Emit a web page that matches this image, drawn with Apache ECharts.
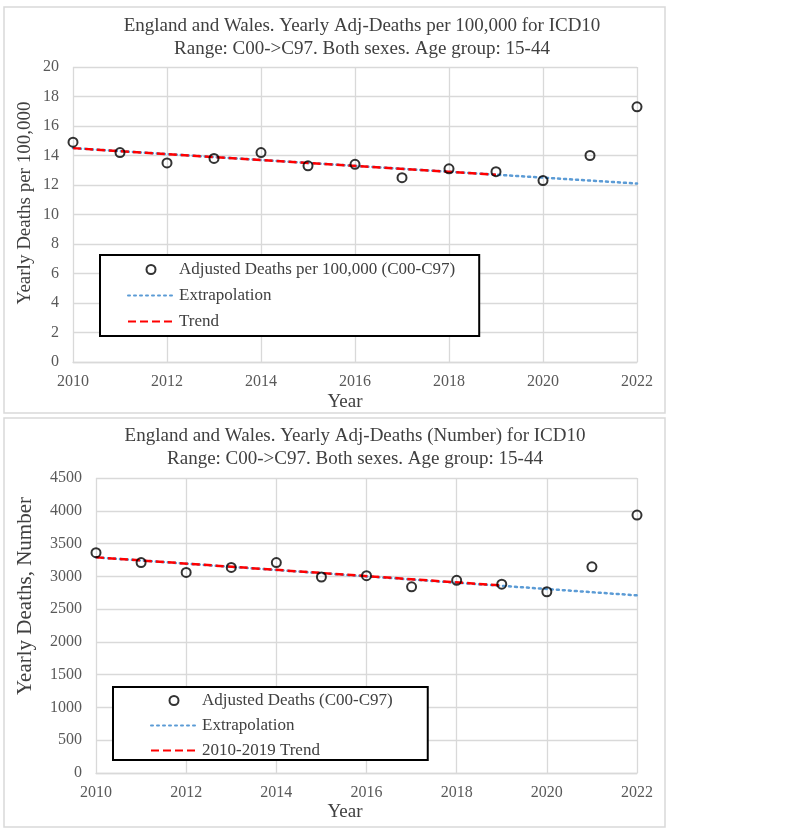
<!DOCTYPE html>
<html>
<head>
<meta charset="utf-8">
<script src="https://cdn.jsdelivr.net/npm/echarts@6/dist/echarts.min.js"></script>
<style>html,body{margin:0;padding:0;background:#fff}#c{width:798px;height:837px}</style>
</head>
<body>
<div id="c"></div>
<script>
// ---- data ----
const years = [2010, 2011, 2012, 2013, 2014, 2015, 2016, 2017, 2018, 2019, 2020, 2021, 2022];
const ratePer100k = [14.9, 14.2, 13.5, 13.8, 14.2, 13.3, 13.4, 12.5, 13.1, 12.9, 12.3, 14.0, 17.3];
const rateTrendYears = [2010, 2019];
const rateTrendValues = [14.5, 12.7];
const rateExtrapYears = [2010, 2022];
const rateExtrapValues = [14.5, 12.1];

const deathsNumber = [3360, 3210, 3060, 3135, 3210, 2990, 3010, 2840, 2940, 2880, 2765, 3145, 3935];
const numTrendYears = [2010, 2019];
const numTrendValues = [3290, 2860];
const numExtrapYears = [2010, 2022];
const numExtrapValues = [3290, 2710];

const topTitle = 'England and Wales. Yearly Adj-Deaths per 100,000 for ICD10\nRange: C00->C97. Both sexes. Age group: 15-44';
const botTitle = 'England and Wales. Yearly Adj-Deaths (Number) for ICD10\nRange: C00->C97. Both sexes. Age group: 15-44';
const topLegend = ['Adjusted Deaths per 100,000 (C00-C97)', 'Extrapolation', 'Trend'];
const botLegend = ['Adjusted Deaths (C00-C97)', 'Extrapolation', '2010-2019 Trend'];
const topYName = 'Yearly Deaths per 100,000';
const botYName = 'Yearly Deaths, Number';
const xName = 'Year';

// ---- helpers ----
const zip = (xs, ys) => xs.map((x, i) => [x, ys[i]]);
const FONT = 'Liberation Serif';
const grid = '#d9d9d9';
const lbl = '#595959';
const txt = '#404040';

function xAxis(gi) {
  return {
    gridIndex: gi, type: 'value', min: 2010, max: 2022, interval: 2,
    axisLine: { show: true, lineStyle: { color: grid, width: 1.3 } },
    axisTick: { show: false },
    splitLine: { show: true, lineStyle: { color: grid, width: 1.3 } },
    axisLabel: { color: lbl, fontFamily: FONT, fontSize: 16, margin: 12, formatter: v => String(v) }
  };
}
function yAxis(gi, max, interval) {
  return {
    gridIndex: gi, type: 'value', min: 0, max: max, interval: interval,
    axisLine: { show: false }, axisTick: { show: false },
    splitLine: { show: true, lineStyle: { color: grid, width: 1.3 } },
    axisLabel: { color: lbl, fontFamily: FONT, fontSize: 16, margin: 14, formatter: v => String(v) }
  };
}
const dotted = { color: '#5B9BD5', width: 2.5, type: [2, 4], cap: 'round' };
const dashed = { color: '#FF0000', width: 2.5, type: [8, 4] };
const scatterStyle = { color: 'rgba(0,0,0,0)', borderColor: '#000', borderWidth: 2 };

function legend(names, left, top, padding, gap) {
  return {
    data: names.map((n, i) => i === 0 ? { name: n, icon: 'circle' } : { name: n, itemStyle: { opacity: 0 } }),
    orient: 'vertical', left: left, top: top, padding: padding,
    itemWidth: 46, itemHeight: 9, itemGap: gap,
    backgroundColor: '#fff', borderColor: '#000', borderWidth: 2,
    textStyle: { color: txt, fontFamily: FONT, fontSize: 17 },
    selectedMode: false
  };
}
function vText(text, x, y, size) {
  return { type: 'text', x: x, y: y, rotation: Math.PI / 2,
    style: { text: text, fill: txt, font: size + 'px "Liberation Serif"', align: 'center', verticalAlign: 'middle' } };
}
function hText(text, x, y, size) {
  return { type: 'text', x: x, y: y,
    style: { text: text, fill: txt, font: size + 'px "Liberation Serif"', align: 'center', verticalAlign: 'middle' } };
}

const option = {
  animation: false,
  backgroundColor: '#fff',
  graphic: [
    { type: 'rect', shape: { x: 4, y: 7, width: 661, height: 406 }, style: { fill: 'none', stroke: grid, lineWidth: 1.5 }, z: -1 },
    { type: 'rect', shape: { x: 4, y: 418, width: 661, height: 409 }, style: { fill: 'none', stroke: grid, lineWidth: 1.5 }, z: -1 },
    hText(xName, 345, 402, 19),
    hText(xName, 345, 812, 19),
    vText(topYName, 25, 203, 19),
    vText(botYName, 25, 596, 21)
  ],
  title: [
    { text: topTitle, left: 357, top: 10, textAlign: 'center',
      textStyle: { color: txt, fontFamily: FONT, fontSize: 19, fontWeight: 'normal', lineHeight: 23 } },
    { text: botTitle, left: 350, top: 420, textAlign: 'center',
      textStyle: { color: txt, fontFamily: FONT, fontSize: 19, fontWeight: 'normal', lineHeight: 23 } }
  ],
  legend: [
    legend(topLegend, 100, 255, [6, 24, 6, 27], 9),
    legend(botLegend, 113, 687, [5, 35, 1, 37], 8)
  ],
  grid: [
    { left: 73, top: 67, width: 564, height: 295 },
    { left: 96, top: 478, width: 541, height: 295 }
  ],
  xAxis: [xAxis(0), xAxis(1)],
  yAxis: [yAxis(0, 20, 2), yAxis(1, 4500, 500)],
  series: [
    { name: 'Extrapolation', type: 'line', xAxisIndex: 0, yAxisIndex: 0, symbol: 'none', data: zip(rateExtrapYears, rateExtrapValues), lineStyle: dotted, itemStyle: { color: '#5B9BD5' }, z: 2 },
    { name: 'Trend', type: 'line', xAxisIndex: 0, yAxisIndex: 0, symbol: 'none', data: zip(rateTrendYears, rateTrendValues), lineStyle: dashed, itemStyle: { color: '#FF0000' }, z: 3 },
    { name: topLegend[0], type: 'scatter', xAxisIndex: 0, yAxisIndex: 0, symbol: 'circle', symbolSize: 9, data: zip(years, ratePer100k), itemStyle: scatterStyle, z: 4 },
    { name: 'Extrapolation', type: 'line', xAxisIndex: 1, yAxisIndex: 1, symbol: 'none', data: zip(numExtrapYears, numExtrapValues), lineStyle: dotted, itemStyle: { color: '#5B9BD5' }, z: 2 },
    { name: '2010-2019 Trend', type: 'line', xAxisIndex: 1, yAxisIndex: 1, symbol: 'none', data: zip(numTrendYears, numTrendValues), lineStyle: dashed, itemStyle: { color: '#FF0000' }, z: 3 },
    { name: botLegend[0], type: 'scatter', xAxisIndex: 1, yAxisIndex: 1, symbol: 'circle', symbolSize: 9, data: zip(years, deathsNumber), itemStyle: scatterStyle, z: 4 }
  ]
};
const chart = echarts.init(document.getElementById('c'), null, { renderer: 'canvas' });
chart.setOption(option);
</script>
</body>
</html>
